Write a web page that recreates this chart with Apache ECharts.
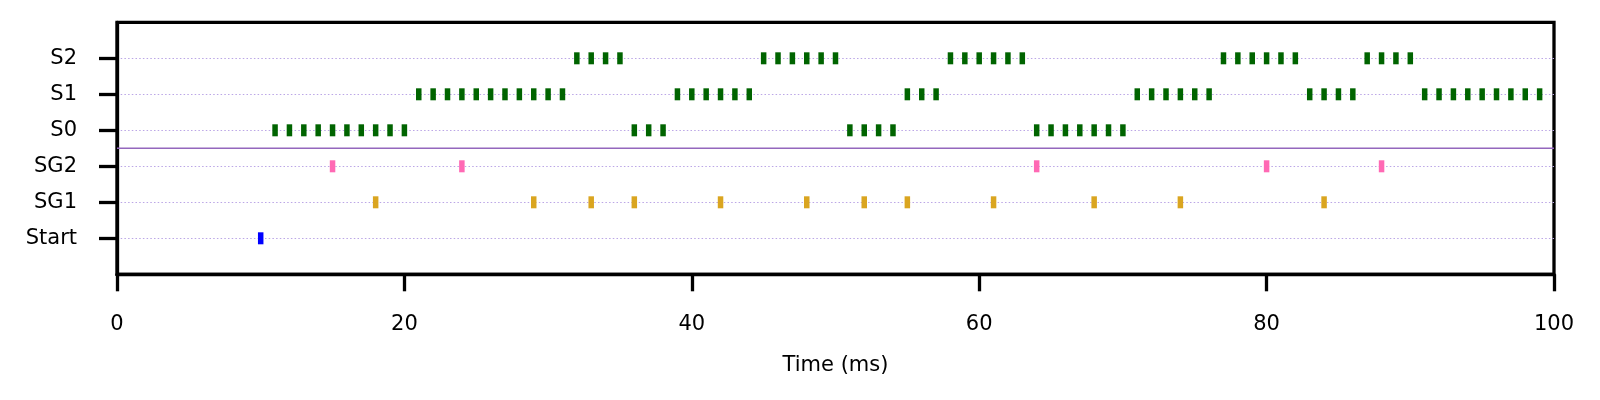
<!DOCTYPE html>
<html>
<head>
<meta charset="utf-8">
<script src="https://cdn.jsdelivr.net/npm/echarts@6/dist/echarts.min.js"></script>
<style>
    html, body { margin: 0; padding: 0; background: #fff; }
    #container { width: 1600px; height: 400px; }
</style>
</head>
<body>
<div id="container"></div>
<script>
// 行名称 (y = 0..5)
var rowNames = ['Start', 'SG1', 'SG2', 'S0', 'S1', 'S2'];
// x 轴刻度
var xTicks = [0, 20, 40, 60, 80, 100];

// 每一行的事件时刻 (ms)
var startTimes = [10];
var sg1Times = [18, 29, 33, 36, 42, 48, 52, 55, 61, 68, 74, 84];
var sg2Times = [15, 24, 64, 80, 88];
var s0Times = [11, 12, 13, 14, 15, 16, 17, 18, 19, 20,
    36, 37, 38,
    51, 52, 53, 54,
    64, 65, 66, 67, 68, 69, 70];
var s1Times = [21, 22, 23, 24, 25, 26, 27, 28, 29, 30, 31,
    39, 40, 41, 42, 43, 44,
    55, 56, 57,
    71, 72, 73, 74, 75, 76,
    83, 84, 85, 86,
    91, 92, 93, 94, 95, 96, 97, 98, 99];
var s2Times = [32, 33, 34, 35,
    45, 46, 47, 48, 49, 50,
    58, 59, 60, 61, 62, 63,
    77, 78, 79, 80, 81, 82,
    87, 88, 89, 90];
// 分隔线 (x 范围和 y 位置)
var dividerX = [0, 100];
var dividerY = 2.5;

var rowColors = ['#0000ff', '#daa520', '#ff69b4', '#006400', '#006400', '#006400'];
var rowTimes = [startTimes, sg1Times, sg2Times, s0Times, s1Times, s2Times];

var font = 'DejaVu Sans';

// 组装散点系列
function makeSeries(idx) {
    var pts = [];
    for (var i = 0; i < rowTimes[idx].length; i++) {
        pts.push([rowTimes[idx][i], idx]);
    }
    return {
        name: rowNames[idx],
        type: 'scatter',
        symbol: 'rect',
        symbolSize: [5.5, 12],
        itemStyle: { color: rowColors[idx], opacity: 1 },
        data: pts,
        z: 5,
        silent: true
    };
}

var series = [];
for (var k = 0; k < rowNames.length; k++) {
    series.push(makeSeries(k));
}
// 紫色分隔线
series.push({
    type: 'line',
    data: [[dividerX[0], dividerY], [dividerX[1], dividerY]],
    symbol: 'none',
    lineStyle: { color: '#9467bd', width: 1.4, opacity: 1 },
    silent: true,
    z: 4
});

var chart = echarts.init(document.getElementById('container'));
var option = {
    animation: false,
    backgroundColor: '#fff',
    grid: {
        left: 117,
        right: 46,
        top: 22.3,
        bottom: 125.7,
        show: true,
        borderColor: '#000',
        borderWidth: 3.3,
        backgroundColor: 'transparent'
    },
    xAxis: {
        type: 'value',
        min: 0,
        max: 100,
        interval: 20,
        name: 'Time (ms)',
        nameLocation: 'middle',
        nameGap: 81,
        nameTextStyle: { color: '#000', fontFamily: font, fontSize: 21 },
        axisLine: { show: true, onZero: false, lineStyle: { color: '#000', width: 3.3 } },
        axisTick: { show: true, length: 17, lineStyle: { color: '#000', width: 3.3 } },
        axisLabel: {
            color: '#000', fontFamily: font, fontSize: 21, margin: 40,
            customValues: xTicks
        },
        splitLine: { show: false }
    },
    yAxis: {
        type: 'value',
        min: -1,
        max: 6,
        interval: 1,
        axisLine: { show: true, onZero: false, lineStyle: { color: '#000', width: 3.3 } },
        axisTick: {
            show: true, length: 18, lineStyle: { color: '#000', width: 3.3 },
            customValues: [0, 1, 2, 3, 4, 5]
        },
        axisLabel: {
            color: '#000', fontFamily: font, fontSize: 21, margin: 40,
            customValues: [0, 1, 2, 3, 4, 5],
            formatter: function(v) {
                return rowNames[v] || '';
            }
        },
        splitLine: {
            show: true,
            lineStyle: { color: '#bba6e6', width: 1.2, type: [1.5, 2.2] }
        }
    },
    series: series
};
chart.setOption(option);
</script>
</body>
</html>
